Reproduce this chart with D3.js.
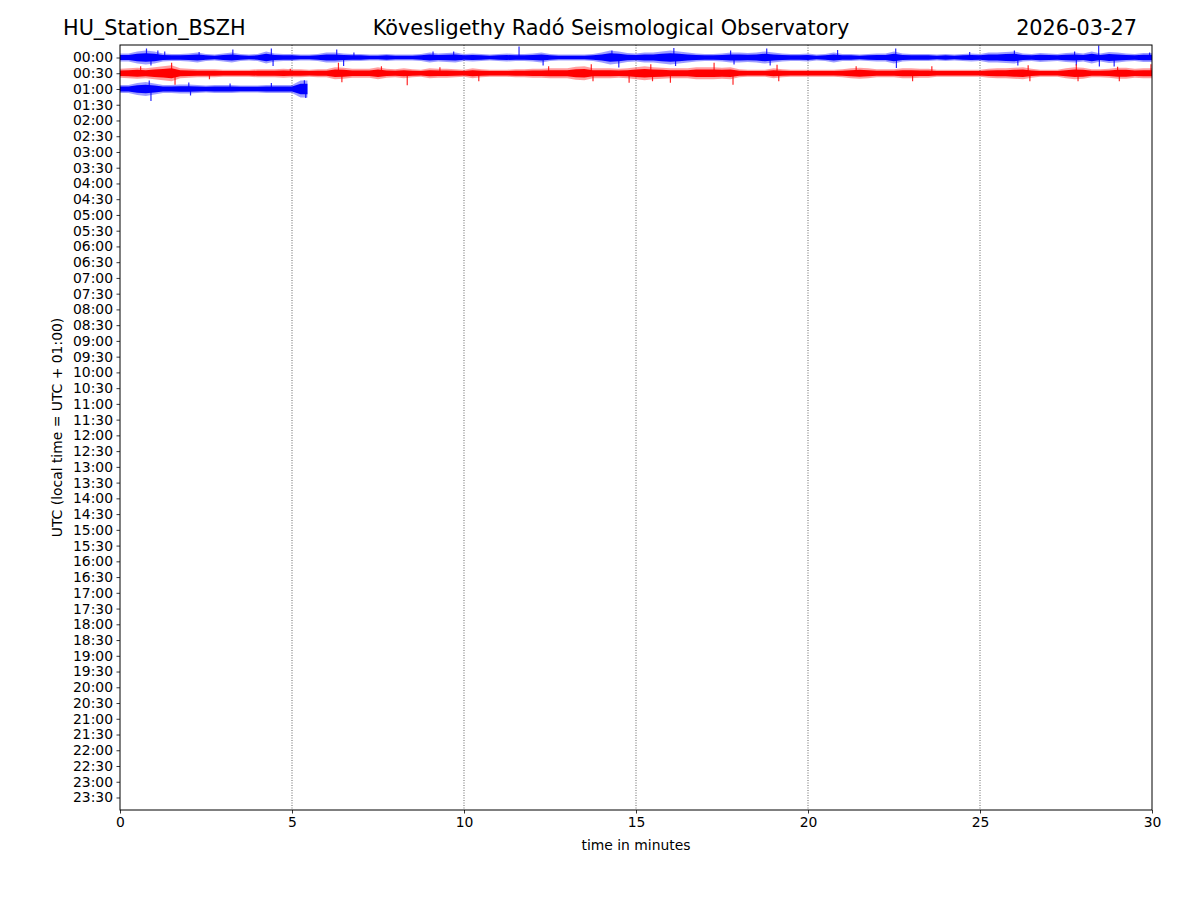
<!DOCTYPE html>
<html><head><meta charset="utf-8">
<script src="https://cdn.jsdelivr.net/npm/d3@7"></script>
<style>body{margin:0;background:#fff}svg{display:block}text{font-family:"DejaVu Sans",sans-serif;fill:#000}</style>
</head><body><div id="chart"></div>
<script>
// ---- data ----
const stationTitle = "HU_Station_BSZH";
const observatoryTitle = "Kövesligethy Radó Seismological Observatory";
const dateTitle = "2026-03-27";
const yLabel = "UTC (local time = UTC + 01:00)";
const xLabel = "time in minutes";
const rowLabels = [];
for (let h = 0; h < 24; h++) { const hh = String(h).padStart(2, "0"); rowLabels.push(hh + ":00", hh + ":30"); }
const xTicks = [0, 5, 10, 15, 20, 25, 30];
const gridMinutes = [5, 10, 15, 20, 25];
const sampleStep = 0.25; // minutes between envelope readings

// trace rows (index into rowLabels), colours, end minute
const traceRows = [0, 1, 2];
const traceColors = ["#0000ff", "#ff0000", "#0000ff"];
const traceEnds = [30, 30, 5.45];

// half-amplitude envelopes (counts), one value per 0.25 min
const envRow0000 = [
  4,4,6,7, 6,4,3.5,3.5, 4,5,3.5,3, 4,5,3.5,3, 3.5,6,4,3.5,
  3.5,3,3,3.5, 5,5,4,3.5, 3.5,3,3,3.5, 3,3,3,3.5, 5,4,4.5,5,
  3.5,4,3.5,3, 3.5,4,3.5,3.5, 4,5,3.5,3, 3,3,3,3.5, 5,7,6,4.5,
  4,5,5,6, 7,6,5,4, 3.5,3.5,4,5, 5,4.5,5,6, 5,4,3.5,3.5,
  4,3,3.5,5, 3.5,3.5,3,3.5, 4,4,6,4, 3.5,3.5,3.5,3, 3.5,3,3.5,4,
  3.5,5,5,5.5, 6,4,3.5,4.5, 4,3.5,4.5,5, 4,6,4,5.5, 5,4,3.5,4.5, 4.5
];
const envRow0030 = [
  4.5,5,5.5,5, 6,7,8,5, 4.5,4,4,4, 3.5,3.5,3.5,3.5, 4,4,4,4.5,
  4,4,3.5,4, 4,6,5.5,4.5, 4.5,4.5,6,4.5, 4,5,4,3.5, 5,4.5,4.5,4,
  3.5,5,4,3.5, 3.5,3.5,4,4, 4.5,4.5,5,5, 5,6.5,7,5, 5,5,4.5,5,
  6,7,6,5.5, 5,5,5,6, 6,6,5.5,6, 4,3.5,3.5,3.5, 5,4,3.5,3.5,
  3.5,3.5,3.5,3.5, 4,5,5.5,5, 4,4,4,5, 5,4.5,4.5,3.5, 3.5,3.5,3.5,3.5,
  3.5,4.5,5,5, 5.5,6,4.5,3.5, 3.5,3.5,5,6, 5.5,4,4,4.5, 5.5,5.5,4.5,5, 5
];
const envRow0100 = [
  4,4,6,7, 5.5,4,4,4.5, 4.5,4,3.5,4, 4,4,3.5,3.5, 3.5,4,4,4,
  4,8.5
];
const envelopes = [envRow0000, envRow0030, envRow0100];

// isolated peaks: [minute, counts up(+)/down(-)]
const spikesRow0000 = [
  [0.77, 9], [0.9, -8], [1.1, 7], [1.3, 6], [2.3, 5.5], [3.28, 8], [4.4, 9], [4.45, -8.5],
  [6.3, 8], [6.5, -8.5], [6.8, 5], [9.1, 6], [9.7, 6], [11.6, 11], [12.3, -8], [14.3, 7],
  [14.5, -10], [16.1, 9.5], [16.15, -8.5], [17.75, 7], [17.85, -7], [18.8, 9], [18.9, -8],
  [20.86, 7.5], [22.55, 9], [22.57, -10.5], [24.7, 5.5], [26.0, 7], [26.1, -8], [27.75, 6],
  [27.8, -8], [28.45, 12], [28.47, -9], [28.9, -9], [29.93, 5]
];
const spikesRow0030 = [
  [0.6, 7], [1.5, 10.5], [1.6, -11.5], [2.6, -6], [4.95, 4.5], [6.35, 10.5], [6.45, -9],
  [7.6, 7], [8.35, -12], [9.3, 6], [10.43, -8], [12.46, 7], [13.7, 9], [13.75, -8],
  [14.8, -9.5], [15.43, 9], [15.48, -8], [16.0, -9.5], [17.27, 10.5], [17.82, -11.5],
  [19.1, 8.5], [19.15, -8], [21.4, 7], [23.04, -8], [23.6, 7], [26.4, 8], [26.45, -8],
  [27.8, 9], [27.85, -8], [29.0, 6.5], [29.05, -8], [29.97, 9]
];
const spikesRow0100 = [
  [0.85, 8.5], [0.9, -12], [2.0, 6.5], [2.05, -6.5], [3.2, 5.5], [4.4, 6], [5.36, 8.7], [5.4, -9]
];
const spikes = [spikesRow0000, spikesRow0030, spikesRow0100];
const countsPerRow = 15.74;

// ---- chart ----
const W = 1200, H = 900;
const m = {left: 120, right: 48, top: 45, bottom: 90};
const svg = d3.select("#chart").append("svg").attr("width", W).attr("height", H);

const x = d3.scaleLinear().domain([0, 30]).range([m.left, W - m.right]);
const y = d3.scaleLinear().domain([-0.794, rowLabels.length - 1 + 0.794]).range([m.top, H - m.bottom]);
const amp = d3.scaleLinear().domain([0, countsPerRow]).range([0, y(1) - y(0)]);

// grid
svg.append("g").selectAll("line").data(gridMinutes).join("line")
  .attr("x1", d => x(d)).attr("x2", d => x(d))
  .attr("y1", m.top).attr("y2", H - m.bottom)
  .attr("stroke", "#000").attr("stroke-width", 0.6).attr("stroke-dasharray", "1,1.5");

// traces
svg.append("clipPath").attr("id", "plotclip").append("rect")
  .attr("x", m.left).attr("y", m.top).attr("width", W - m.left - m.right).attr("height", H - m.top - m.bottom);
const traces = svg.append("g").attr("clip-path", "url(#plotclip)");
traceRows.forEach((row, k) => {
  const env = envelopes[k];
  const pts = env.map((a, i) => ({t: Math.min(i * sampleStep, traceEnds[k]), a}));
  const last = pts[pts.length - 1];
  if (last.t < traceEnds[k]) pts.push({t: traceEnds[k], a: last.a});
  const c = y(row);
  const outer = d3.area().x(d => x(d.t)).y0(d => c - amp(d.a)).y1(d => c + amp(d.a));
  const core = d3.area().x(d => x(d.t)).y0(d => c - amp(d.a) * 0.62).y1(d => c + amp(d.a) * 0.62);
  traces.append("path").datum(pts).attr("d", outer).attr("fill", traceColors[k]).attr("fill-opacity", 0.38);
  traces.append("path").datum(pts).attr("d", core).attr("fill", traceColors[k]);
  traces.append("g").selectAll("line").data(spikes[k]).join("line")
    .attr("x1", d => x(d[0])).attr("x2", d => x(d[0]))
    .attr("y1", c).attr("y2", d => c - Math.sign(d[1]) * amp(Math.abs(d[1])))
    .attr("stroke", traceColors[k]).attr("stroke-width", 1.2).attr("stroke-opacity", 0.85);
});

// axes
const yAxis = d3.axisLeft(y).tickValues(d3.range(rowLabels.length)).tickFormat(i => rowLabels[i]).tickSize(3.5).tickPadding(3.5);
const gy = svg.append("g").attr("transform", `translate(${m.left},0)`).call(yAxis);
const xAxis = d3.axisBottom(x).tickValues(xTicks).tickFormat(d3.format("d")).tickSize(3.5).tickPadding(3.5);
const gx = svg.append("g").attr("transform", `translate(0,${H - m.bottom})`).call(xAxis);
[gx, gy].forEach(g => {
  g.select(".domain").remove();
  g.selectAll("line").attr("stroke", "#000").attr("stroke-width", 0.8);
  g.selectAll("text").attr("font-size", "13.9px").attr("font-family", "DejaVu Sans, sans-serif").attr("fill", "#000");
});
svg.append("rect").attr("x", m.left).attr("y", m.top).attr("width", W - m.left - m.right).attr("height", H - m.top - m.bottom)
  .attr("fill", "none").attr("stroke", "#000").attr("stroke-width", 1);

// titles & labels
svg.append("text").attr("x", 63).attr("y", 35).attr("font-size", "20.8px").text(stationTitle);
svg.append("text").attr("x", 611).attr("y", 35).attr("text-anchor", "middle").attr("font-size", "20.8px").text(observatoryTitle);
svg.append("text").attr("x", 1137).attr("y", 35).attr("text-anchor", "end").attr("font-size", "20.8px").text(dateTitle);
svg.append("text").attr("x", (m.left + W - m.right) / 2).attr("y", 850).attr("text-anchor", "middle").attr("font-size", "13.9px").text(xLabel);
svg.append("text").attr("transform", `translate(62,${(m.top + H - m.bottom) / 2}) rotate(-90)`).attr("text-anchor", "middle").attr("font-size", "13.9px").text(yLabel);
</script></body></html>
